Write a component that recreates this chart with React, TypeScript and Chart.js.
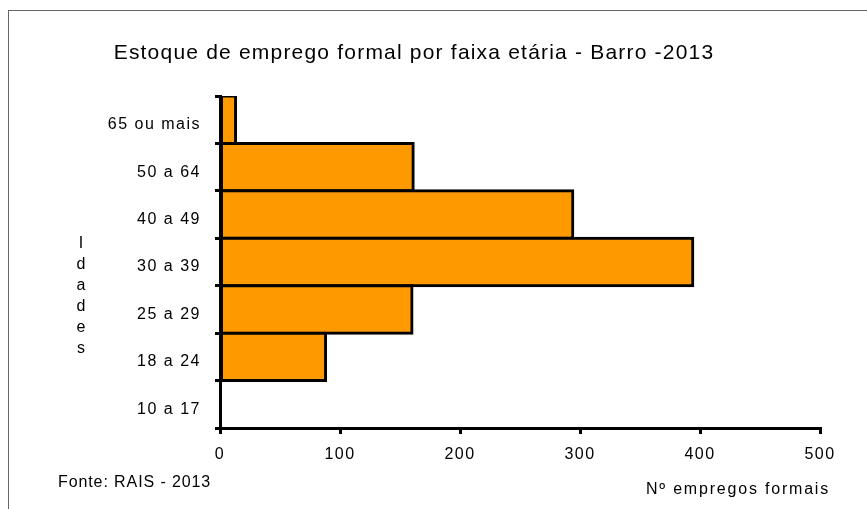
import React, { useEffect, useRef } from "react";
import { Chart, registerables } from "chart.js";

Chart.register(...registerables);

const categories = ["65 ou mais", "50 a 64", "40 a 49", "30 a 39", "25 a 29", "18 a 24", "10 a 17"];
const values = [13, 161, 294, 394, 160, 88, 0];
const xTicks = [0, 100, 200, 300, 400, 500];
const titleText = "Estoque de emprego formal por faixa etária - Barro -2013";
const yTitleText = "Idades";
const xTitleText = "Nº empregos formais";
const sourceText = "Fonte: RAIS - 2013";

const FONT = "'Liberation Sans', Arial, sans-serif";

const textPlugin = {
  id: "texts",
  beforeDraw(chart: any) {
    chart.ctx.letterSpacing = "1.5px";
  },
  afterDraw(chart: any) {
    const ctx = chart.ctx;
    ctx.save();
    ctx.fillStyle = "#000";
    ctx.textBaseline = "middle";
    // title
    ctx.letterSpacing = "1.2px";
    ctx.font = `21px ${FONT}`;
    ctx.textAlign = "center";
    ctx.fillText(titleText, 414, 53);
    // y title stacked letters
    ctx.letterSpacing = "0px";
    ctx.font = `16px ${FONT}`;
    const letters = yTitleText.split("");
    letters.forEach((ch: string, i: number) => {
      ctx.fillText(ch, 81, 244 + i * 21);
    });
    // source
    ctx.letterSpacing = "0.9px";
    ctx.textAlign = "left";
    ctx.fillText(sourceText, 58, 483);
    // x title
    ctx.letterSpacing = "1.8px";
    ctx.textAlign = "right";
    ctx.fillText(xTitleText, 830, 490);
    ctx.restore();
  },
};

export default function App() {
  const ref = useRef<HTMLCanvasElement | null>(null);
  useEffect(() => {
    const prevOverflow = document.body.style.overflow;
    document.body.style.overflow = "hidden";
    const chart = new Chart(ref.current as HTMLCanvasElement, {
      type: "bar",
      data: {
        labels: categories,
        datasets: [
          {
            data: values,
            backgroundColor: "#FF9900",
            borderColor: "#000",
            borderWidth: 3,
            borderSkipped: false,
            inflateAmount: 1.5,
            barPercentage: 1,
            categoryPercentage: 1,
          } as any,
        ],
      },
      options: {
        indexAxis: "y",
        animation: false,
        responsive: false,
        events: [],
        layout: { padding: { left: 0, right: 47, top: 96, bottom: 41 } },
        plugins: { legend: { display: false }, title: { display: false }, tooltip: { enabled: false } },
        scales: {
          x: {
            type: "linear",
            min: xTicks[0],
            max: xTicks[xTicks.length - 1],
            afterFit: (s: any) => {
              s.height = 40;
            },
            afterBuildTicks: (s: any) => {
              s.ticks = xTicks.map((v) => ({ value: v }));
            },
            ticks: { color: "#000", font: { size: 16, family: FONT }, padding: 11 },
            grid: {
              display: true,
              drawOnChartArea: false,
              drawTicks: true,
              tickLength: 6,
              lineWidth: 3,
              color: "#000",
            },
            border: { display: true, width: 3, color: "#000" },
          },
          y: {
            type: "category",
            afterFit: (s: any) => {
              s.width = 220;
            },
            ticks: { color: "#000", font: { size: 16, family: FONT }, padding: 14, labelOffset: 5 },
            grid: {
              display: true,
              offset: true,
              drawOnChartArea: false,
              drawTicks: true,
              tickLength: 5,
              lineWidth: 3,
              color: "#000",
            },
            border: { display: true, width: 3, color: "#000" },
          },
        },
      } as any,
      plugins: [textPlugin],
    });
    return () => {
      chart.destroy();
      document.body.style.overflow = prevOverflow;
    };
  }, []);

  return (
    <div>
      <div
        style={{
          position: "fixed",
          left: 8,
          top: 10,
          width: 900,
          height: 600,
          border: "1px solid #666",
          boxSizing: "border-box",
        }}
      />
      <canvas
        ref={ref}
        width={867}
        height={509}
        style={{ position: "fixed", left: 0, top: 0, display: "block" }}
      />
    </div>
  );
}
